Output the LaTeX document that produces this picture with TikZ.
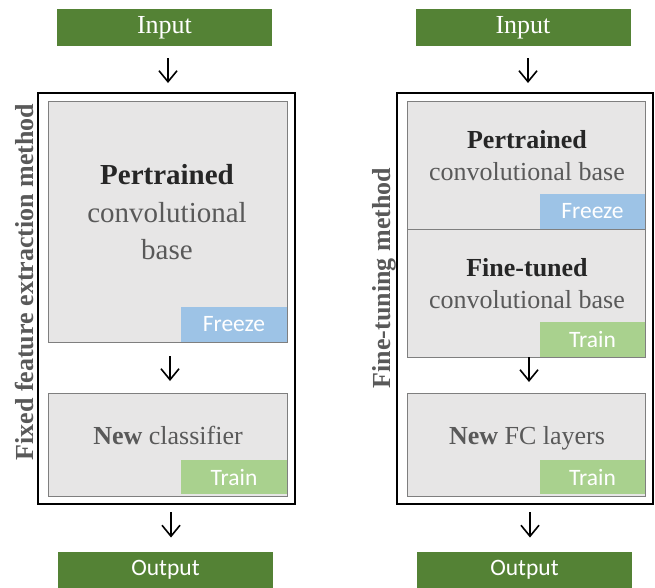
\documentclass[tikz,border=0pt]{standalone}
\usepackage{fontspec}
\setmainfont{Liberation Serif}
\newfontfamily\calfont{Carlito}
\usetikzlibrary{arrows.meta}
\definecolor{dgreen}{HTML}{548235}
\definecolor{lgreen}{HTML}{A9D18E}
\definecolor{lblue}{HTML}{9DC3E6}
\definecolor{boxgray}{HTML}{E7E6E6}
\definecolor{edgegray}{HTML}{7F7F7F}
\definecolor{txtgray}{HTML}{595959}
\definecolor{txtdark}{HTML}{262626}
\begin{document}
\begin{tikzpicture}[x=1pt,y=-1pt,
  every node/.style={inner sep=0pt, outer sep=0pt},
  greenbox/.style={fill=dgreen, text=white, minimum width=215pt, minimum height=37pt},
  serifin/.style={font=\fontsize{26}{26}\selectfont},
  sansout/.style={font=\calfont\fontsize{23.5}{24}\selectfont},
  frame/.style={draw=black, line width=1.8pt},
  graybox/.style={fill=boxgray, draw=edgegray, line width=1pt},
  tag/.style={text=white, minimum width=106pt, minimum height=35pt, anchor=south east, font=\calfont\fontsize{23.5}{24}\selectfont},
  freezetag/.style={tag, fill=lblue},
  traintag/.style={tag, fill=lgreen},
  bigtxt/.style={anchor=base, font=\fontsize{29}{29}\selectfont},
  midtxt/.style={anchor=base, font=\fontsize{26}{26}\selectfont},
  sidelabel/.style={rotate=90, text=txtgray, font=\bfseries\fontsize{26}{26}\selectfont},
  arr/.style={line width=1.6pt, -{Straight Barb[length=11pt,width=18pt]}}
]
\useasboundingbox (0,0) rectangle (655,587);

% ---------- left panel ----------
\node[greenbox, serifin] (in1) at (164.5,27.5) {Input};
\node[frame, minimum width=257pt, minimum height=411pt] (f1) at (166.5,298.5) {};
\node[graybox, minimum width=239pt, minimum height=241pt] (pre1) at (167.5,221.5) {};
\node[graybox, minimum width=239pt, minimum height=103pt] (cls1) at (167.5,444.5) {};
\node[freezetag] (fz1) at (pre1.south east) {Freeze};
\node[traintag, minimum height=34pt] (tr1) at ([yshift=2pt]cls1.south east) {Train};
\node[bigtxt, text=txtdark] (p1a) at (167,184) {\textbf{Pertrained}};
\node[bigtxt, text=txtgray] (p1b) at (167,222) {convolutional};
\node[bigtxt, text=txtgray] (p1c) at (167,259) {base};
\node[midtxt, text=txtgray] (c1a) at (168,444) {\textbf{New} classifier};
\node[greenbox, sansout] (out1) at (165.5,570) {Output};
\node[sidelabel] (lab1) at (25,282) {Fixed feature extraction method};

\draw[arr, shorten <=12pt, shorten >=10pt] ([xshift=3.5pt]in1.south) -- ([xshift=1.5pt]f1.north);
\draw[arr, shorten <=14pt, shorten >=12pt] ([xshift=2.5pt]pre1.south) -- ([xshift=2.5pt]cls1.north);
\draw[arr, shorten <=8pt, shorten >=14pt] ([xshift=4.5pt]f1.south) -- ([xshift=5.5pt]out1.north);

% ---------- right panel ----------
\node[greenbox, serifin] (in2) at (523,27.5) {Input};
\node[frame, minimum width=256pt, minimum height=411pt] (f2) at (525,298.5) {};
\node[graybox, minimum width=238pt, minimum height=128pt] (pre2) at (526,165) {};
\node[graybox, minimum width=238pt, minimum height=128pt] (ft2) at (526,293) {};
\node[graybox, minimum width=238pt, minimum height=103pt] (fc2) at (526,444.5) {};
\node[freezetag, minimum width=105pt] (fz2) at (pre2.south east) {Freeze};
\node[traintag, minimum width=105pt] (tr2) at (ft2.south east) {Train};
\node[traintag, minimum width=105pt, minimum height=34pt] (tr3) at ([yshift=2pt]fc2.south east) {Train};
\node[midtxt, text=txtdark] (p2a) at (527,148) {\textbf{Pertrained}};
\node[midtxt, text=txtgray] (p2b) at (527,180) {convolutional base};
\node[midtxt, text=txtdark] (t2a) at (527,276) {\textbf{Fine-tuned}};
\node[midtxt, text=txtgray] (t2b) at (527,308) {convolutional base};
\node[midtxt, text=txtgray] (n2a) at (527,444) {\textbf{New} FC layers};
\node[greenbox, sansout] (out2) at (524.5,570) {Output};
\node[sidelabel] (lab2) at (384,278) {Fine-tuning method};

\draw[arr, shorten <=12pt, shorten >=10pt] ([xshift=5pt]in2.south) -- ([xshift=3pt]f2.north);
\draw[arr, shorten >=11pt] ([xshift=3pt]ft2.south) -- ([xshift=3pt]fc2.north);
\draw[arr, shorten <=8pt, shorten >=14pt] ([xshift=5pt]f2.south) -- ([xshift=5.5pt]out2.north);
\end{tikzpicture}
\end{document}
